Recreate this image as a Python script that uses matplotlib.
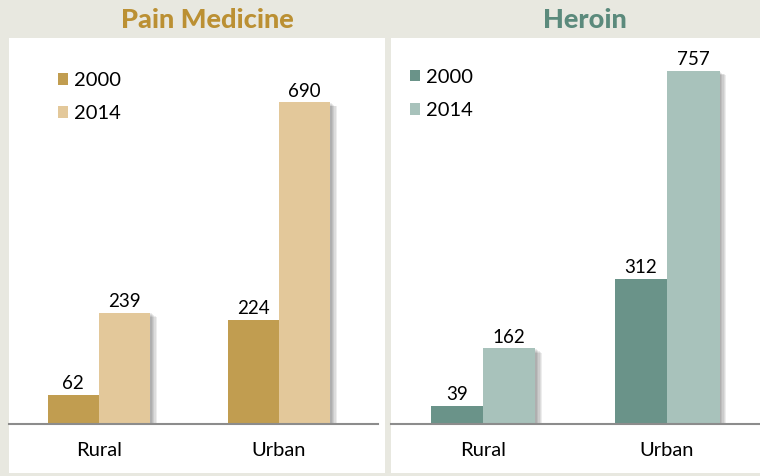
import matplotlib
matplotlib.use("Agg")
import matplotlib.pyplot as plt
import matplotlib.patheffects as pe
from matplotlib.patches import Rectangle
import numpy as np

plt.rcParams['font.family'] = ['Lato', 'DejaVu Sans']

categories = ['Rural', 'Urban']
years = ['2000', '2014']
pain_2000 = [62, 224]
pain_2014 = [239, 690]
heroin_2000 = [39, 312]
heroin_2014 = [162, 757]

W, H = 760, 476
fig = plt.figure(figsize=(7.6, 4.76), dpi=100)
fig.patch.set_facecolor('#e8e8e0')

def px_rect(x0, y0, x1, y1):
    # pixel coords (top-left origin) -> figure fraction
    return [x0 / W, (H - y1) / H, (x1 - x0) / W, (y1 - y0) / H]

# white panels
for (x0, x1) in [(9, 385), (391, 760)]:
    l, b, w, h = px_rect(x0, 38, x1, 473)
    fig.patches.append(Rectangle((l, b), w, h, transform=fig.transFigure,
                                 facecolor='white', edgecolor='none', zorder=-1))

# soft shadow made of a few faint offset copies
shadow = [pe.withSimplePatchShadow(offset=(o, -o * 0.6), shadow_rgbFace='k', alpha=0.07)
          for o in (1, 2, 3, 4, 5)]

def panel(rect, xlim, vals0, vals1, c0, c1, title, tcolor, title_x, leg_anchor):
    ax = fig.add_axes(px_rect(*rect))
    ax.set_zorder(2)
    ax.set_facecolor('none')
    x = np.arange(len(categories))
    bw = 0.285
    b0 = ax.bar(x - bw / 2, vals0, bw, color=c0, label=years[0], zorder=2,
                path_effects=shadow)
    b1 = ax.bar(x + bw / 2, vals1, bw, color=c1, label=years[1], zorder=3,
                path_effects=shadow)
    for bars in (b0, b1):
        for r in bars:
            ax.annotate(str(int(r.get_height())),
                        (r.get_x() + r.get_width() / 2, r.get_height()),
                        xytext=(0, 2), textcoords='offset points',
                        ha='center', va='bottom', fontsize=13.5, color='black', zorder=5)
    ax.set_xlim(*xlim)
    ax.set_ylim(0, 828)
    for s in ['top', 'left', 'right']:
        ax.spines[s].set_visible(False)
    ax.spines['bottom'].set_color('#8c8c8c')
    ax.spines['bottom'].set_linewidth(1.5)
    ax.spines['bottom'].set_zorder(4)
    ax.set_yticks([])
    ax.set_xticks(x)
    ax.set_xticklabels(categories, fontsize=14.5)
    ax.tick_params(axis='x', length=0, pad=13)
    leg = ax.legend(loc='upper left', bbox_to_anchor=leg_anchor, frameon=False,
                    fontsize=14.5, handlelength=0.5, handleheight=0.5,
                    handletextpad=0.3, labelspacing=0.8,
                    borderpad=0, borderaxespad=0)
    for h in leg.legend_handles:
        h.set_path_effects([])
    fig.text(title_x / W, 1 - 20 / H, title, ha='center', va='center',
             fontsize=19.5, fontweight='black', color=tcolor)
    return ax

panel((9, 38, 378, 424), (-0.5, 1.55), pain_2000, pain_2014,
      '#c19d50', '#e3c89a', 'Pain Medicine', '#bb9033', 207, (0.133, 0.912))
panel((391, 38, 760, 424), (-0.5, 1.505), heroin_2000, heroin_2014,
      '#6a9389', '#a8c2bb', 'Heroin', '#5b8a7c', 585, (0.0515, 0.92))

fig.savefig('out.png', dpi=100, facecolor=fig.get_facecolor())
